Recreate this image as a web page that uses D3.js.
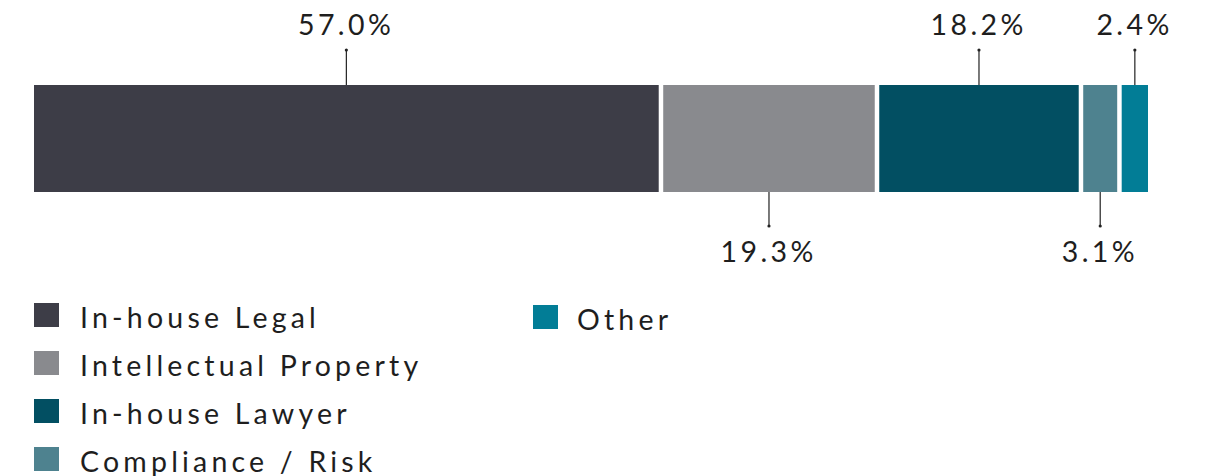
<!DOCTYPE html>
<html>
<head>
<meta charset="utf-8">
<script src="https://cdn.jsdelivr.net/npm/d3@7"></script>
<style>
  html, body { margin: 0; padding: 0; background: #fff; }
  svg { display: block; }
  text { font-family: Lato, "Open Sans", sans-serif; font-weight: 400; fill: #1e1e1e; }
</style>
</head>
<body>
<svg id="chart" width="1210" height="476"></svg>
<script>
// Share of respondents by role
const categories = ["In-house Legal", "Intellectual Property", "In-house Lawyer", "Compliance / Risk", "Other"];
const values = [57.0, 19.3, 18.2, 3.1, 2.4];
const colors = ["#3d3d47", "#898a8e", "#024f62", "#4e828f", "#027d96"];
const labelSide = ["top", "bottom", "top", "bottom", "top"];

const svg = d3.select("#chart");

const left = 34, gap = 4.5, barTop = 85, barH = 107;
const w = d3.scaleLinear().domain([0, 100]).range([0, 1096]);

// cumulative starts, with a small white gap between segments
let acc = 0;
const segs = values.map((v, i) => {
  const s = { i, v, x: left + w(acc) + i * gap, width: w(v) };
  acc += v;
  return s;
});

svg.selectAll("rect.bar").data(segs).join("rect")
  .attr("class", "bar")
  .attr("x", d => d.x)
  .attr("y", barTop)
  .attr("width", d => d.width)
  .attr("height", barH)
  .attr("fill", d => colors[d.i]);

// leader lines with end dots and value labels
const lead = 35;
const labelSpacing = 3.4;
const g = svg.selectAll("g.lbl").data(segs).join("g").attr("class", "lbl");
g.each(function(d) {
  const cx = d.x + d.width / 2;
  const top = labelSide[d.i] === "top";
  const y0 = top ? barTop : barTop + barH;
  const y1 = top ? barTop - lead : barTop + barH + lead - 1;
  const sel = d3.select(this);
  sel.append("line")
    .attr("x1", cx).attr("x2", cx).attr("y1", y0).attr("y2", y1)
    .attr("stroke", "#222").attr("stroke-width", 1.2);
  sel.append("circle").attr("cx", cx).attr("cy", y1).attr("r", 1.6).attr("fill", "#222");
  sel.append("text")
    .attr("x", cx + labelSpacing / 2 - 2)
    .attr("y", top ? 35 : 262)
    .attr("text-anchor", "middle")
    .style("font-size", "28.5px")
    .style("letter-spacing", labelSpacing + "px")
    .text(d3.format(".1f")(d.v) + "%");
});

// legend: four rows per column
const lg = svg.selectAll("g.leg").data(categories).join("g")
  .attr("class", "leg")
  .attr("transform", (d, i) => `translate(${34 + Math.floor(i / 4) * 499}, ${303 + (i % 4) * 48 + Math.floor(i / 4) * 2})`);
lg.append("rect").attr("width", 25).attr("height", 24).attr("fill", (d, i) => colors[i]);
lg.append("text")
  .attr("x", (d, i) => (i < 4 ? 46 : 44)).attr("y", 25)
  .style("font-size", "28.5px")
  .style("letter-spacing", "4.2px")
  .text(d => d);
</script>
</body>
</html>
